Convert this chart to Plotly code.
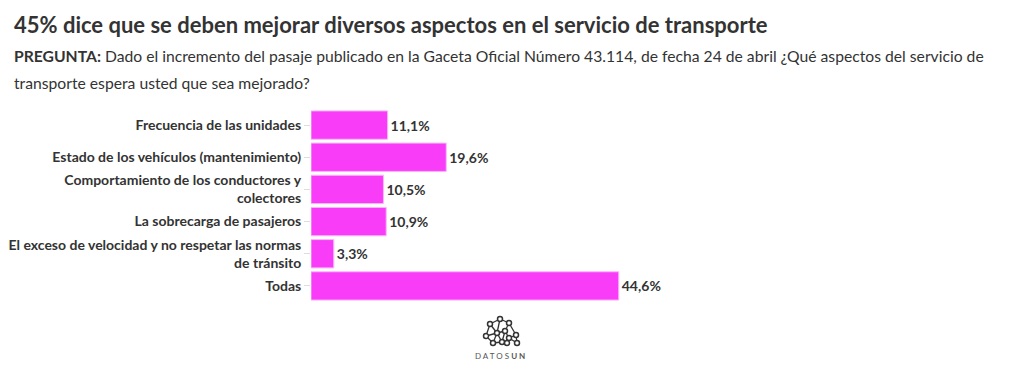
import plotly.graph_objects as go

categories = [
    "Frecuencia de las unidades",
    "Estado de los vehículos (mantenimiento)",
    "Comportamiento de los conductores y<br>colectores",
    "La sobrecarga de pasajeros",
    "El exceso de velocidad y no respetar las normas<br>de tránsito",
    "Todas",
]
values = [11.1, 19.6, 10.5, 10.9, 3.3, 44.6]
labels = [f"{v:.1f}%".replace(".", ",") for v in values]

W, H = 1020, 377
ML, MR, MT, MB = 311, 19, 109, 75
PW, PH = W - ML - MR, H - MT - MB
FONT = "Lato"
BAR = "#f93cf7"

def px(x):
    return (x - ML) / PW

def py(y):
    return (H - MB - y) / PH

fig = go.Figure(go.Bar(
    x=values, y=categories, orientation="h",
    marker=dict(color=BAR, line=dict(color="#fbb4fa", width=1)),
    text=labels, textposition="outside", cliponaxis=False,
    textfont=dict(family=FONT, size=14, color="#333333", weight="bold"),
    hoverinfo="skip",
))

annotations = [
    dict(text="<b>45% dice que se deben mejorar diversos aspectos en el servicio de transporte</b>",
         x=px(12), y=py(24), font=dict(family=FONT, size=22, color="#333333")),
    dict(text="<b>PREGUNTA:</b> Dado el incremento del pasaje publicado en la Gaceta Oficial Número 43.114, de fecha 24 de abril ¿Qué aspectos del servicio de",
         x=px(12), y=py(56), font=dict(family=FONT, size=15.7, color="#333333")),
    dict(text="transporte espera usted que sea mejorado?",
         x=px(12), y=py(83), font=dict(family=FONT, size=15.7, color="#333333")),
    dict(text="D A T O S <b>U N</b>", x=px(500), y=py(356), xanchor="center",
         font=dict(family=FONT, size=8, color="#555555")),
]
for a in annotations:
    a.setdefault("xanchor", "left")
    a.update(xref="paper", yref="paper", yanchor="middle", showarrow=False)

# DATOSUN logo network
nodes = [(500, 319), (490, 324), (509, 323), (497, 333), (486, 336), (505, 331),
         (516, 335), (509, 338), (502, 342), (493, 343), (517, 343), (507, 343)]
edges = [(0, 1), (0, 2), (1, 3), (1, 4), (0, 3), (2, 5), (3, 5), (2, 6), (5, 7), (6, 7),
         (3, 8), (4, 9), (3, 9), (8, 9), (7, 10), (6, 10), (7, 11), (8, 11), (5, 8), (4, 3)]
shapes = []
for a, b in edges:
    shapes.append(dict(type="line", xref="paper", yref="paper",
                       x0=px(nodes[a][0]), y0=py(nodes[a][1]),
                       x1=px(nodes[b][0]), y1=py(nodes[b][1]),
                       line=dict(color="#333333", width=1.3)))
for (nx, ny) in nodes:
    shapes.append(dict(type="circle", xref="paper", yref="paper",
                       xsizemode="pixel", ysizemode="pixel",
                       xanchor=px(nx), yanchor=py(ny),
                       x0=-2.5, x1=2.5, y0=-2.5, y1=2.5,
                       fillcolor="white", line=dict(color="#333333", width=1.5)))

fig.update_layout(
    width=W, height=H,
    margin=dict(l=ML, r=MR, t=MT, b=MB),
    paper_bgcolor="white", plot_bgcolor="white",
    showlegend=False, bargap=0.12,
    xaxis=dict(range=[0, 100], visible=False, fixedrange=True, automargin=False),
    yaxis=dict(autorange="reversed", showgrid=False, showline=False, automargin=False,
               ticks="outside", ticklen=6, tickcolor="#dddddd",
               tickfont=dict(family=FONT, size=14, color="#333333", weight="bold"),
               fixedrange=True),
    annotations=annotations, shapes=shapes,
)
fig.write_html("out.html", config={"displayModeBar": False})
